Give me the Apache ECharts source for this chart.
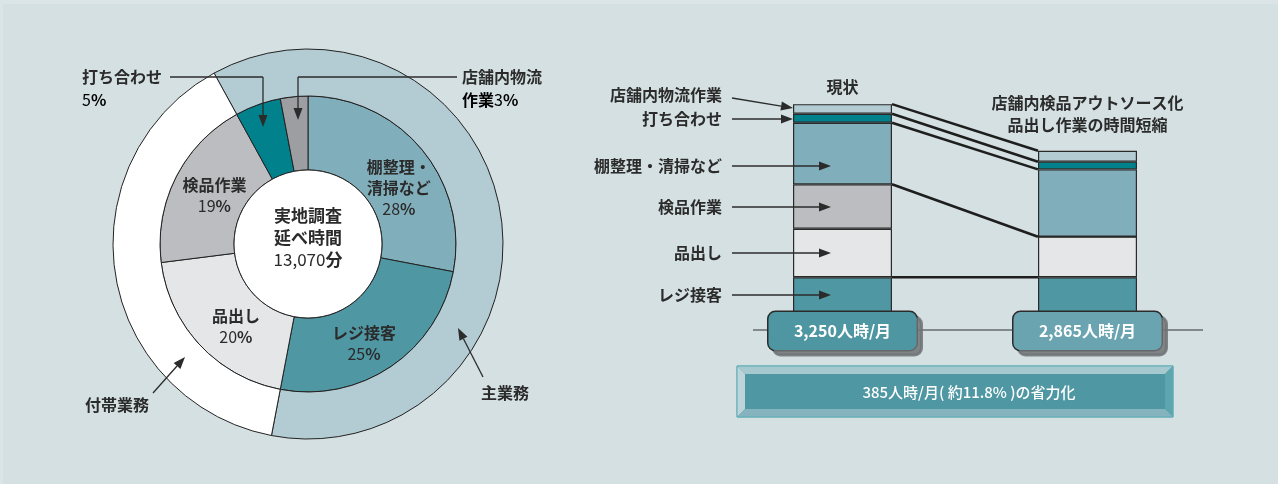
<!DOCTYPE html>
<html>
<head>
<meta charset="utf-8">
<script src="https://cdn.jsdelivr.net/npm/echarts@6/dist/echarts.min.js"></script>
<style>
html,body{margin:0;padding:0;background:#dbe4e6;}
#c{width:1278px;height:484px;}
</style>
</head>
<body>
<div id="c"></div>
<script>
// ---------------- data ----------------
const donutCategories = ['棚整理・清掃など', 'レジ接客', '品出し', '検品作業', '打ち合わせ', '店舗内物流作業'];
const donutLabelText  = ['棚整理・\n清掃など', 'レジ接客', '品出し', '検品作業', '打ち合わせ', '店舗内物流\n作業'];
const donutShares     = [28, 25, 20, 19, 5, 3];
const ringCategories  = ['主業務', '付帯業務'];
const ringShares      = [61, 39];          // 主業務 = 28+25+5+3, 付帯業務 = 20+19
const surveyTitle     = ['実地調査', '延べ時間'];
const surveyTotal     = '13,070';

const scenarios       = ['現状', '店舗内検品アウトソース化\n品出し作業の時間短縮'];
const scenarioTotals  = ['3,250', '2,865'];
const segNames        = ['レジ接客', '品出し', '検品作業', '棚整理・清掃など', '打ち合わせ', '店舗内物流作業']; // bottom -> top
const segNow          = [758, 699, 639, 886, 129, 139];
const segAfter        = [758, 585, 0, 968, 111, 158];
const linkedBoundaries = [0, 2, 3, 4, 5];  // stacked boundaries joined between the two bars
const savingHours     = '385';
const savingPct       = '11.8';

// ---------------- style ----------------
const FONT = '"Noto Sans CJK JP", "Noto Sans", sans-serif';
const INK = '#2b2b2b';
const COL = {
  shelf: '#80aeba', register: '#4f97a3', stock: '#e4e6e8', inspect: '#bbbdc1',
  meeting: '#00818b', logistics: '#9c9ea1', main: '#b3cbd2', sub: '#ffffff', logisticsBar: '#b3cbd2'
};
const donutColors = [COL.shelf, COL.register, COL.stock, COL.inspect, COL.meeting, COL.logistics];
const ringColors = [COL.main, COL.sub];
const barColors = [COL.register, COL.stock, COL.inspect, COL.shelf, COL.meeting, COL.logisticsBar];
const BAR_W = 99;
const PIE_C = [308, 244];
// nudges (dx, dy) of the inside donut labels
const donutLabelNudge = [[3, 17], [-8, 5], [11, 4], [8, 3], [0, 0], [0, 0]];

// ---------------- helpers ----------------
function arrowEls(x1, y1, x2, y2, head, hw) {
  head = head || 12; hw = hw || 4.5;
  const dx = x2 - x1, dy = y2 - y1, L = Math.hypot(dx, dy);
  const ux = dx / L, uy = dy / L;
  const bx = x2 - ux * head, by = y2 - uy * head;
  return [
    { type: 'line', z: 60, silent: true, shape: { x1: x1, y1: y1, x2: bx, y2: by }, style: { stroke: INK, lineWidth: 1.3 } },
    { type: 'polygon', z: 60, silent: true, shape: { points: [[x2, y2], [bx - uy * hw, by + ux * hw], [bx + uy * hw, by - ux * hw]] }, style: { fill: INK } }
  ];
}
function elbowArrow(pts) {
  const n = pts.length;
  const els = [{ type: 'polyline', z: 60, silent: true, shape: { points: pts.slice(0, n - 1) }, style: { stroke: INK, lineWidth: 1.3, fill: null } }];
  return els.concat(arrowEls(pts[n - 2][0], pts[n - 2][1], pts[n - 1][0], pts[n - 1][1]));
}
function txt(text, x, y, align, opts) {
  return Object.assign({
    type: 'text', z: 60, silent: true,
    style: { text: text, x: x, y: y, fill: INK, font: 'bold 16px ' + FONT, align: align || 'left', verticalAlign: 'middle' }
  }, opts || {});
}
const pctRich = {
  n: { fontSize: 16, fontFamily: FONT, color: INK, fontWeight: 'normal' },
  p: { fontSize: 16, fontFamily: FONT, color: INK, fontWeight: 'bold' }
};

// ---------------- graphics (annotations) ----------------
let g = [];
g.push({ type: 'rect', z: -100, silent: true, shape: { x: 3, y: 4, width: 1275, height: 480 }, style: { fill: '#d5e0e2' } });
// donut call-outs
g.push(txt(donutCategories[4], 82, 77));
g.push({ type: 'text', z: 60, silent: true, style: { text: '{n|' + donutShares[4] + '}{p|%}', x: 82, y: 100, verticalAlign: 'middle', rich: pctRich } });
g = g.concat(elbowArrow([[170, 77], [263, 77], [263, 127]]));
g.push(txt('店舗内物流', 462, 77));
g.push({ type: 'text', z: 60, silent: true, style: { text: '{t|作業}{n|' + donutShares[5] + '}{p|%}', x: 462, y: 100, verticalAlign: 'middle', rich: Object.assign({ t: { fontSize: 16, fontFamily: FONT, color: INK, fontWeight: 'bold' } }, pctRich) } });
g = g.concat(elbowArrow([[457, 77], [298, 77], [298, 120]]));
g.push(txt(ringCategories[0], 505, 393, 'center'));
g = g.concat(arrowEls(483, 377, 458, 328));
g.push(txt(ringCategories[1], 117, 405, 'center'));
g = g.concat(arrowEls(153, 393, 185, 357));

// bar call-outs (label, y of text, arrow start x,y, arrow tip x,y)
const barNotes = [
  [segNames[5], 95, 732, 98, 793, 108],
  [segNames[4], 119, 732, 119, 793, 119],
  [segNames[3], 166, 732, 166, 831, 166],
  [segNames[2], 207, 732, 207, 831, 207],
  [segNames[1], 253, 732, 253, 831, 253],
  [segNames[0], 295, 732, 295, 831, 295]
];
barNotes.forEach(function (b) {
  g.push(txt(b[0], 722, b[1], 'right'));
  g = g.concat(arrowEls(b[2], b[3], b[4], b[5]));
});
// baseline
g.push({ type: 'line', z: 1, silent: true, shape: { x1: 753, y1: 330, x2: 1203, y2: 330 }, style: { stroke: '#333', lineWidth: 1.2 } });
// bevelled saving box
const bx0 = 737, by0 = 366, bx1 = 1173, by1 = 417, bv = 8;
g.push({ type: 'rect', z: 40, silent: true, shape: { x: bx0, y: by0, width: bx1 - bx0, height: by1 - by0 }, style: { fill: '#4f97a3', stroke: '#5fadb6', lineWidth: 1 } });
g.push({ type: 'polygon', z: 41, silent: true, shape: { points: [[bx0, by0], [bx1, by0], [bx1 - bv, by0 + bv], [bx0 + bv, by0 + bv]] }, style: { fill: '#a6c9cf' } });
g.push({ type: 'polygon', z: 41, silent: true, shape: { points: [[bx0, by0], [bx0 + bv, by0 + bv], [bx0 + bv, by1 - bv], [bx0, by1]] }, style: { fill: '#bdd5da' } });
g.push({ type: 'polygon', z: 41, silent: true, shape: { points: [[bx1, by0], [bx1, by1], [bx1 - bv, by1 - bv], [bx1 - bv, by0 + bv]] }, style: { fill: '#5ea6af' } });
g.push({ type: 'polygon', z: 41, silent: true, shape: { points: [[bx0, by1], [bx0 + bv, by1 - bv], [bx1 - bv, by1 - bv], [bx1, by1]] }, style: { fill: '#86b4be' } });
g.push({ type: 'rect', z: 41, silent: true, shape: { x: bx0, y: by0, width: bx1 - bx0, height: by1 - by0 }, style: { fill: null, stroke: '#5fadb6', lineWidth: 1 } });
g.push({ type: 'text', z: 42, silent: true, style: { text: savingHours + '人時/月( 約' + savingPct + '% )の省力化', x: 969, y: 392, fill: '#ffffff', font: '500 15px ' + FONT, align: 'center', verticalAlign: 'middle' } });

// ---------------- series ----------------
const series = [];
// center white disc with caption
series.push({
  type: 'pie', silent: true, center: PIE_C, radius: [0, 74], z: 3,
  data: [{ value: 1, name: 'center' }],
  itemStyle: { color: '#ffffff', borderColor: '#222', borderWidth: 1 },
  label: {
    show: true, position: 'center', padding: [0, 0, 12, 0],
    formatter: '{t|' + surveyTitle[0] + '}\n{t|' + surveyTitle[1] + '}\n{n|' + surveyTotal + '}{u|分}',
    rich: {
      t: { fontSize: 17, fontWeight: 'bold', color: INK, fontFamily: FONT, lineHeight: 22 },
      n: { fontSize: 17, color: INK, fontFamily: FONT, lineHeight: 22 },
      u: { fontSize: 17, fontWeight: 'bold', color: INK, fontFamily: FONT, lineHeight: 22 }
    }
  },
  labelLine: { show: false }, emphasis: { disabled: true }
});
// inner breakdown ring
function nudgePadding(d) {
  return [Math.max(0, 2 * d[1]), Math.max(0, -2 * d[0]), Math.max(0, -2 * d[1]), Math.max(0, 2 * d[0])];
}
series.push({
  type: 'pie', silent: true, center: PIE_C, radius: [74, 148], startAngle: 90, clockwise: true,
  itemStyle: { borderColor: '#222', borderWidth: 1 },
  emphasis: { disabled: true }, labelLine: { show: false },
  data: donutCategories.map(function (c, i) {
    return {
      name: c, value: donutShares[i], itemStyle: { color: donutColors[i] },
      label: { show: i < 4, padding: nudgePadding(donutLabelNudge[i]) }
    };
  }),
  label: {
    position: 'inside',
    formatter: function (p) {
      const i = p.dataIndex;
      return donutLabelText[i].split('\n').map(function (s) { return '{t|' + s + '}'; }).join('\n') + '\n{n|' + donutShares[i] + '}{p|%}';
    },
    rich: {
      t: { fontSize: 16, fontWeight: 'bold', color: INK, fontFamily: FONT, lineHeight: 21 },
      n: { fontSize: 16, color: INK, fontFamily: FONT, lineHeight: 21 },
      p: { fontSize: 16, fontWeight: 'bold', color: INK, fontFamily: FONT, lineHeight: 21 }
    }
  }
});
// outer main / incidental ring, starting where 打ち合わせ starts
const ringStart = 90 + (donutShares[4] + donutShares[5]) / 100 * 360;
series.push({
  type: 'pie', silent: true, center: PIE_C, radius: [148, 195], startAngle: ringStart, clockwise: true,
  itemStyle: { borderColor: '#222', borderWidth: 1 },
  emphasis: { disabled: true }, label: { show: false }, labelLine: { show: false },
  data: ringCategories.map(function (c, i) { return { name: c, value: ringShares[i], itemStyle: { color: ringColors[i] } }; })
});
// stacked bars
segNames.forEach(function (n, si) {
  const data = [segNow[si], segAfter[si]].map(function (v, ci) {
    const item = { value: v };
    if (si === segNames.length - 1) {
      item.label = {
        show: true, position: 'top', distance: ci === 0 ? 6 : 15,
        formatter: scenarios[ci], color: INK, fontSize: 16, fontWeight: 'bold', fontFamily: FONT,
        lineHeight: 22, align: 'center'
      };
    }
    return item;
  });
  series.push({
    type: 'bar', name: n, stack: 'total', barWidth: BAR_W, silent: true, z: 2,
    xAxisIndex: 0, yAxisIndex: 0,
    itemStyle: { color: barColors[si], borderColor: '#2a2a2a', borderWidth: 1.2 },
    emphasis: { disabled: true },
    data: data
  });
});
// connector lines between equivalent stack boundaries
function cum(arr) { let s = 0; return arr.map(function (v) { s += v; return s; }); }
const cNow = cum(segNow), cAfter = cum(segAfter);
series.push({
  type: 'custom', silent: true, z: 4, clip: false, xAxisIndex: 0, yAxisIndex: 0,
  encode: { x: 0, y: 1 },
  data: linkedBoundaries.map(function (k) { return [0, cNow[k], cAfter[k]]; }),
  renderItem: function (params, api) {
    const a = api.coord([0, api.value(1)]);
    const b = api.coord([1, api.value(2)]);
    return {
      type: 'line',
      shape: { x1: a[0] + BAR_W / 2, y1: a[1], x2: b[0] - BAR_W / 2, y2: b[1] },
      style: { stroke: '#1e1e1e', lineWidth: 2.6 }
    };
  }
});

const boxBase = {
  color: '#ffffff', fontSize: 16, fontWeight: 'bold', fontFamily: FONT,
  width: 148, height: 38, lineHeight: 38, align: 'center', verticalAlign: 'top',
  borderColor: '#2b2b2b', borderWidth: 1.5, borderRadius: 7,
  shadowColor: 'rgba(110,115,118,0.85)', shadowOffsetX: 5, shadowOffsetY: 5, shadowBlur: 0
};

const chart = echarts.init(document.getElementById('c'), null, { renderer: 'canvas' });
chart.setOption({
  backgroundColor: '#dbe4e6',
  animation: false,
  textStyle: { fontFamily: FONT },
  grid: { left: 720, top: 52, width: 490, height: 278, outerBoundsMode: 'none', containLabel: false },
  xAxis: [{
    type: 'category', z: 10,
    data: scenarios.map(function (s, i) {
      return { value: s, textStyle: { backgroundColor: i === 0 ? '#4e97a2' : '#6aa4b0' } };
    }),
    axisLine: { show: false }, axisTick: { show: false }, splitLine: { show: false },
    axisLabel: Object.assign({
      interval: 0, margin: -18,
      formatter: function (v, i) { return scenarioTotals[i] + '人時/月'; }
    }, boxBase)
  }],
  yAxis: [{ type: 'value', min: 0, max: 4000, show: false }],
  graphic: g,
  series: series
});
</script>
</body>
</html>
